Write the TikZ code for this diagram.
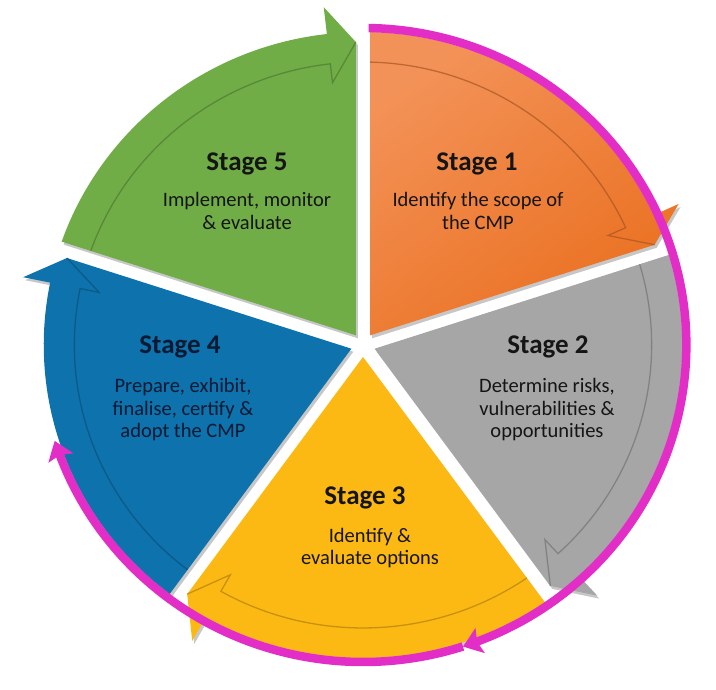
\documentclass[tikz,border=0pt]{standalone}
\usepackage{fontspec}
\setmainfont{Carlito}
\usetikzlibrary{arrows.meta,bending,shadows}
\definecolor{cgreen}{HTML}{70AD47}
\definecolor{corange}{HTML}{EE7B30}
\definecolor{corangeL}{HTML}{F39258}
\definecolor{corangeD}{HTML}{EA7020}
\definecolor{cgray}{HTML}{A6A6A6}
\definecolor{cyellow}{HTML}{FDB913}
\definecolor{cblue}{HTML}{0E72AD}
\definecolor{cmag}{HTML}{E22EC6}
\definecolor{ctext}{HTML}{151515}
\definecolor{cnavy}{HTML}{0A1A33}
\tikzset{
  fillgreen/.style={fill=cgreen},
  fillorange/.style={top color=corangeL, bottom color=corangeD, shading angle=35},
  fillgray/.style={fill=cgray},
  fillyellow/.style={fill=cyellow},
  fillblue/.style={fill=cblue},
  wedgeshadow/.style={drop shadow={shadow xshift=2pt, shadow yshift=-3pt, opacity=0.22, fill=black}},
  groove/.style={line width=1.3pt, opacity=0.7},
  magline/.style={draw=cmag, line width=8.5pt, -{Stealth[length=18pt, width=26pt, inset=3pt, bend]}},
  titletext/.style={font=\fontsize{27}{31}\selectfont\bfseries, text=ctext, inner sep=0pt},
  bodytext/.style={font=\fontsize{20.5}{22.5}\selectfont, text=ctext, align=center, inner sep=0pt}
}
\begin{document}
\begin{tikzpicture}[x=1pt,y=1pt]
\useasboundingbox (0,0) rectangle (716,690);
\begin{scope}[shift={(363,345)}, xscale=1.02]
  \foreach \s/\sty/\gc in {162/fillgreen/cgreen, 90/fillorange/corange, 18/fillgray/cgray, -54/fillyellow/cyellow, -126/fillblue/cblue} {
    \pgfmathsetmacro\e{\s-72}
    \pgfmathsetmacro\m{\s-36}
    \pgfmathsetmacro\b{\e+6.5}
    \pgfmathsetmacro\sa{\s-1.28}
    \pgfmathsetmacro\sg{\s-1.42}
    \pgfmathsetmacro\t{\e+1.32}
    \path[\sty, wedgeshadow] (\m:12) -- (\sa:313) arc[start angle=\sa, end angle=\b, radius=313] -- (\b:340) -- (\t:303) -- cycle;
    \draw[groove, draw=\gc!70!black] (\sg:283) arc[start angle=\sg, end angle=\b, radius=283] -- (\b:264) -- (\t:303);
  }
  \draw[magline] (89:317) arc[start angle=89, end angle=-72, radius=317];
  \draw[magline] (-72:317) arc[start angle=-72, end angle=-162.4, radius=317];
\end{scope}
\node[titletext] (t5) at (247,526) {Stage 5};
\node[bodytext] (b5) at (247,479) {Implement, monitor\\\& evaluate};
\node[titletext] (t1) at (477,526) {Stage 1};
\node[bodytext] (b1) at (478,479) {Identify the scope of\\the CMP};
\node[titletext] (t2) at (548,343) {Stage 2};
\node[bodytext] (b2) at (547,280) {Determine risks,\\vulnerabilities \&\\opportunities};
\node[titletext] (t3) at (365,192) {Stage 3};
\node[bodytext] (b3) at (370,142) {Identify \&\\evaluate options};
\node[titletext, text=cnavy] (t4) at (180,343) {Stage 4};
\node[bodytext, text=cnavy] (b4) at (183,280) {Prepare, exhibit,\\finalise, certify \&\\adopt the CMP};
\end{tikzpicture}
\end{document}
